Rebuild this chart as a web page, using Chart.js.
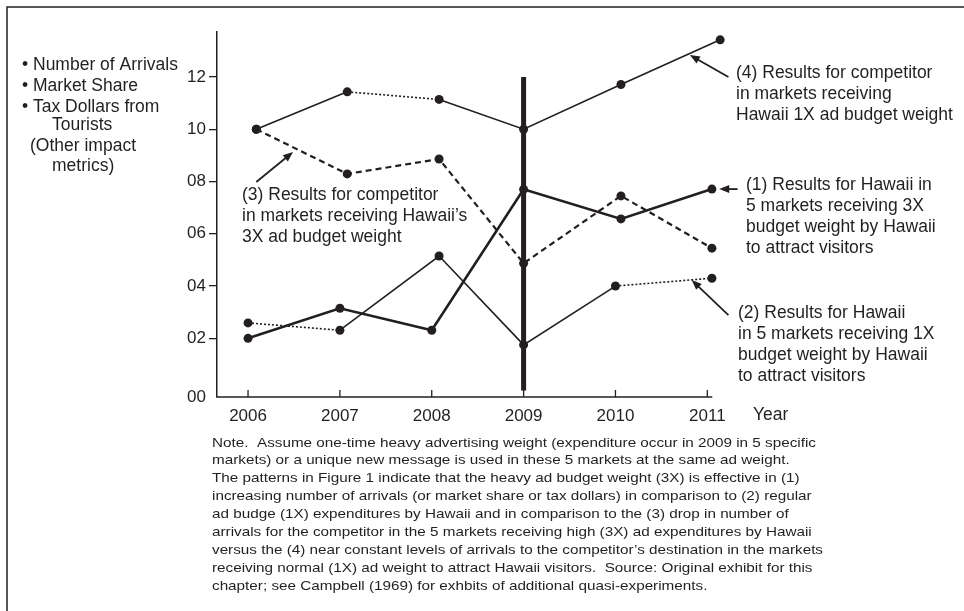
<!DOCTYPE html>
<html>
<head>
<meta charset="utf-8">
<script src="https://cdn.jsdelivr.net/npm/chart.js@4"></script>
<style>
  body { margin: 0; background: #fff; }
  canvas { display: block; }
</style>
</head>
<body>
<canvas id="chart" width="964" height="611"></canvas>
<script>
// axis ticks
const xTicks = [2006, 2007, 2008, 2009, 2010, 2011];
const xTickLabels = ["2006", "2007", "2008", "2009", "2010", "2011"];
const yTicks = [0, 2, 4, 6, 8, 10, 12];
const yTickLabels = ["00", "02", "04", "06", "08", "10", "12"];

// (1) Hawaii, markets with 3X budget
const hawaii3xYears = [2006, 2007, 2008, 2009, 2010.06, 2011.05];
const hawaii3xValues = [2.0, 3.15, 2.31, 7.7, 6.57, 7.71];
// (2) Hawaii, markets with 1X budget
const hawaii1xYears = [2006, 2007, 2008.08, 2009, 2010, 2011.05];
const hawaii1xValues = [2.59, 2.31, 5.15, 1.75, 4.0, 4.3];
// (3) competitor, markets with Hawaii 3X
const comp3xYears = [2006.09, 2007.08, 2008.08, 2009, 2010.06, 2011.05];
const comp3xValues = [10.0, 8.29, 8.86, 4.87, 7.45, 5.45];
// (4) competitor, markets with Hawaii 1X
const comp1xYears = [2006.09, 2007.08, 2008.08, 2009, 2010.06, 2011.14];
const comp1xValues = [10.0, 11.43, 11.14, 10.0, 11.71, 13.42];

// the one-time heavy ad year
const interventionYear = 2009;
const interventionRange = [0, 12];

// x axis line stops a little after 2011 (last point of (4) sits past it)
const xAxisStart = 2005.662;
const xAxisEnd = 2011.054;

const ink = "#231f20";
const font = "Liberation Sans";

const pts = (xs, ys) => xs.map((x, i) => ({ x: x, y: ys[i] }));
const dotted = (idxs) => (ctx) => idxs.includes(ctx.p0DataIndex) ? [2, 2] : undefined;

// arrows, in data units (tail -> head)
const arrows = [
  { from: [2006.09, 7.98], to: [2006.49, 9.13] },
  { from: [2011.23, 12.0], to: [2010.81, 12.84] },
  { from: [2011.33, 7.71], to: [2011.13, 7.71] },
  { from: [2011.23, 2.89], to: [2010.83, 4.23] },
];

const sideText = [
  { x: 22, y: 65, t: "\u2022 Number of Arrivals" },
  { x: 22, y: 86, t: "\u2022 Market Share" },
  { x: 22, y: 107, t: "\u2022 Tax Dollars from" },
  { x: 52, y: 125, t: "Tourists" },
  { x: 30, y: 146, t: "(Other impact" },
  { x: 52, y: 166, t: "metrics)" },
];

const labelBlocks = [
  { x: 242, y: 195, lines: ["(3) Results for competitor", "in markets receiving Hawaii\u2019s", "3X ad budget weight"] },
  { x: 736, y: 73, lines: ["(4) Results for competitor", "in markets receiving", "Hawaii 1X ad budget weight"] },
  { x: 746, y: 185, lines: ["(1) Results for Hawaii in", "5 markets receiving 3X", "budget weight by Hawaii", "to attract visitors"] },
  { x: 738, y: 313, lines: ["(2) Results for Hawaii", "in 5 markets receiving 1X", "budget weight by Hawaii", "to attract visitors"] },
];

const noteLines = [
  "Note.  Assume one-time heavy advertising weight (expenditure occur in 2009 in 5 specific",
  "markets) or a unique new message is used in these 5 markets at the same ad weight.",
  "The patterns in Figure 1 indicate that the heavy ad budget weight (3X) is effective in (1)",
  "increasing number of arrivals (or market share or tax dollars) in comparison to (2) regular",
  "ad budge (1X) expenditures by Hawaii and in comparison to the (3) drop in number of",
  "arrivals for the competitor in the 5 markets receiving high (3X) ad expenditures by Hawaii",
  "versus the (4) near constant levels of arrivals to the competitor\u2019s destination in the markets",
  "receiving normal (1X) ad weight to attract Hawaii visitors.  Source: Original exhibit for this",
  "chapter; see Campbell (1969) for exhbits of additional quasi-experiments.",
];

const extras = {
  id: "extras",
  afterDraw(chart) {
    const c = chart.ctx;
    const xs = chart.scales.x, ys = chart.scales.y;
    const area = chart.chartArea;
    c.save();
    c.strokeStyle = ink;
    c.fillStyle = ink;

    // frame (top and left edge of the scanned figure)
    c.lineWidth = 1.5;
    c.beginPath();
    c.moveTo(7, 611);
    c.lineTo(7, 7);
    c.lineTo(964, 7);
    c.stroke();

    // x axis line
    c.beginPath();
    c.moveTo(xs.getPixelForValue(xAxisStart) - 0.75, area.bottom);
    c.lineTo(xs.getPixelForValue(xAxisEnd), area.bottom);
    c.stroke();

    // x ticks point up into the plot
    c.lineWidth = 1.3;
    xTicks.forEach((v) => {
      const px = xs.getPixelForValue(v);
      c.beginPath();
      c.moveTo(px, area.bottom);
      c.lineTo(px, area.bottom - 7);
      c.stroke();
    });

    // arrows
    arrows.forEach((a) => {
      const x1 = xs.getPixelForValue(a.from[0]), y1 = ys.getPixelForValue(a.from[1]);
      const x2 = xs.getPixelForValue(a.to[0]), y2 = ys.getPixelForValue(a.to[1]);
      const ang = Math.atan2(y2 - y1, x2 - x1);
      const hl = 10, hw = 4;
      c.lineWidth = 1.8;
      c.beginPath();
      c.moveTo(x1, y1);
      c.lineTo(x2 - Math.cos(ang) * hl * 0.8, y2 - Math.sin(ang) * hl * 0.8);
      c.stroke();
      c.beginPath();
      c.moveTo(x2, y2);
      c.lineTo(x2 - Math.cos(ang) * hl - Math.sin(ang) * hw, y2 - Math.sin(ang) * hl + Math.cos(ang) * hw);
      c.lineTo(x2 - Math.cos(ang) * hl + Math.sin(ang) * hw, y2 - Math.sin(ang) * hl - Math.cos(ang) * hw);
      c.closePath();
      c.fill();
    });

    c.textBaseline = "middle";
    c.textAlign = "left";
    c.font = "17.5px '" + font + "'";
    sideText.forEach((s) => c.fillText(s.t, s.x, s.y));
    labelBlocks.forEach((b) => {
      b.lines.forEach((ln, i) => c.fillText(ln, b.x, b.y + i * 21));
    });
    c.fillText("Year", 753, 415);

    // the note is set wide in the figure: stretch it horizontally
    c.font = "13px '" + font + "'";
    const stretch = 611 / c.measureText(noteLines[6]).width;
    noteLines.forEach((ln, i) => {
      c.save();
      c.translate(212, 443 + i * 17.9);
      c.scale(stretch, 1);
      c.fillText(ln, 0, 0);
      c.restore();
    });
    c.restore();
  },
};

const lineBase = {
  borderColor: ink,
  backgroundColor: ink,
  pointBackgroundColor: ink,
  pointBorderWidth: 0,
  pointRadius: 4.5,
  fill: false,
  tension: 0,
  clip: false,
};

new Chart(document.getElementById("chart"), {
  type: "line",
  data: {
    datasets: [
      {
        label: "Heavy ad weight",
        data: interventionRange.map((v) => ({ x: interventionYear, y: v })),
        borderColor: ink,
        borderWidth: 5,
        pointRadius: 0,
        borderCapStyle: "butt",
        clip: false,
      },
      Object.assign({}, lineBase, {
        label: "(4) Competitor, Hawaii 1X",
        data: pts(comp1xYears, comp1xValues),
        borderWidth: 1.6,
        segment: { borderDash: dotted([1]) },
      }),
      Object.assign({}, lineBase, {
        label: "(3) Competitor, Hawaii 3X",
        data: pts(comp3xYears, comp3xValues),
        borderWidth: 2.2,
        borderDash: [6, 4],
      }),
      Object.assign({}, lineBase, {
        label: "(2) Hawaii 1X",
        data: pts(hawaii1xYears, hawaii1xValues),
        borderWidth: 1.6,
        segment: { borderDash: dotted([0, 4]) },
      }),
      Object.assign({}, lineBase, {
        label: "(1) Hawaii 3X",
        data: pts(hawaii3xYears, hawaii3xValues),
        borderWidth: 2.6,
      }),
    ],
  },
  options: {
    responsive: false,
    animation: false,
    events: [],
    layout: { padding: { left: 0, top: 32, right: 242, bottom: 0 } },
    plugins: {
      legend: { display: false },
      tooltip: { enabled: false },
    },
    scales: {
      x: {
        type: "linear",
        min: xAxisStart,
        max: 2011.16,
        afterBuildTicks: (s) => { s.ticks = xTicks.map((v) => ({ value: v })); },
        afterFit: (s) => { s.height = 214; },
        ticks: {
          color: ink,
          font: { family: font, size: 17 },
          padding: 9,
          maxRotation: 0,
          autoSkip: false,
          callback: (v, i) => xTickLabels[i],
        },
        grid: { display: false, drawTicks: false },
        border: { display: false },
      },
      y: {
        type: "linear",
        min: -0.245,
        max: 13.72,
        afterBuildTicks: (s) => {
          // the "00" label sits at the foot of the axis in the figure
          s.ticks = yTicks.map((v) => ({ value: v === 0 ? s.min : v }));
        },
        afterFit: (s) => { s.width = 217; },
        ticks: {
          color: ink,
          font: { family: font, size: 17 },
          padding: 3,
          autoSkip: false,
          callback: (v, i) => yTickLabels[i],
        },
        grid: {
          drawOnChartArea: false,
          tickLength: 8,
          lineWidth: 1.3,
          color: (ctx) => (ctx.index === 0 ? "rgba(0,0,0,0)" : ink),
        },
        border: { color: ink, width: 1.5 },
      },
    },
  },
  plugins: [extras],
});
</script>
</body>
</html>
